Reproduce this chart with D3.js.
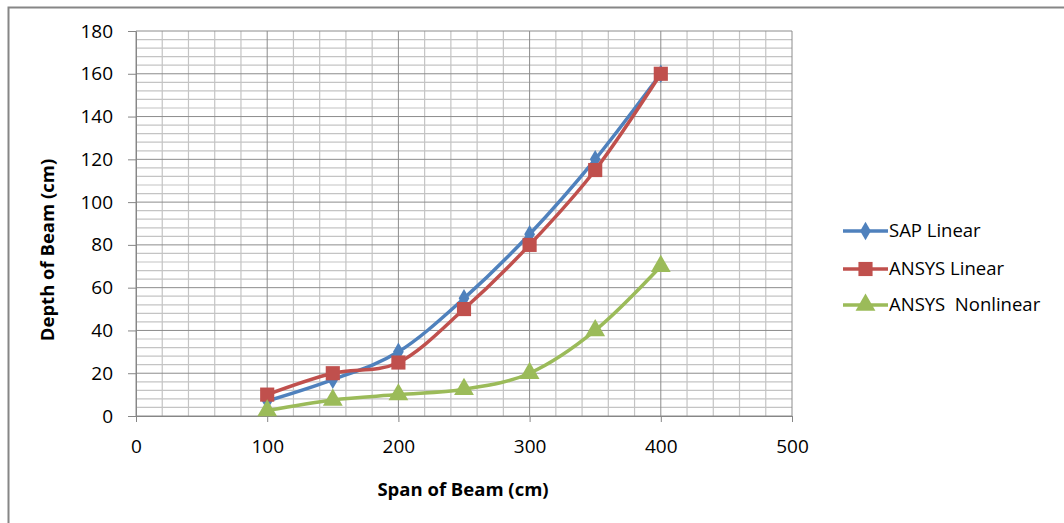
<!DOCTYPE html>
<html><head><meta charset="utf-8">
<script src="https://cdn.jsdelivr.net/npm/d3@7"></script>
<style>body{margin:0;background:#fff}svg{display:block}text{font-family:"Open Sans",sans-serif;fill:#000}</style>
</head><body>
<svg id="c" width="1064" height="523"></svg>
<script>
const spans = [100,150,200,250,300,350,400];
const sapLinear = [7,17,30,55,85,120,160];
const ansysLinear = [10,20,25,50,80,115,160];
const ansysNonlinear = [2.5,7.5,10,12.5,20,40,70];
const seriesNames = ["SAP Linear","ANSYS Linear","ANSYS  Nonlinear"];
const xTicks = [0,100,200,300,400,500];
const yTicks = [0,20,40,60,80,100,120,140,160,180];
const xTitle = "Span of Beam (cm)";
const yTitle = "Depth of Beam (cm)";

const svg = d3.select("#c");
const L=136,R=792,T=31,B=416;
const x = d3.scaleLinear().domain([0,500]).range([L,R]);
const y = d3.scaleLinear().domain([0,180]).range([B,T]);

// outer border
svg.append("rect").attr("x",8.5).attr("y",7.5).attr("width",1100).attr("height",600)
  .attr("fill","none").attr("stroke","#868686").attr("stroke-width",2);

// minor grid
const g = svg.append("g");
d3.range(0,501,20).filter(v=>v%100).forEach(v=>g.append("line").attr("x1",x(v)).attr("x2",x(v)).attr("y1",T).attr("y2",B).attr("stroke","#c4c4c4").attr("stroke-width",1.2));
d3.range(0,181,4).filter(v=>v%20).forEach(v=>g.append("line").attr("y1",y(v)).attr("y2",y(v)).attr("x1",L).attr("x2",R).attr("stroke","#c4c4c4").attr("stroke-width",1.2));
// major grid
xTicks.forEach(v=>g.append("line").attr("x1",x(v)).attr("x2",x(v)).attr("y1",T).attr("y2",B).attr("stroke","#8c8c8c").attr("stroke-width",1));
yTicks.forEach(v=>g.append("line").attr("y1",y(v)).attr("y2",y(v)).attr("x1",L).attr("x2",R).attr("stroke","#8c8c8c").attr("stroke-width",1));

// axes
const xa = svg.append("g").attr("transform",`translate(0,${B})`)
  .call(d3.axisBottom(x).tickValues(xTicks).tickSize(6).tickPadding(18).tickSizeOuter(0));
const ya = svg.append("g").attr("transform",`translate(${L},0)`)
  .call(d3.axisLeft(y).tickValues(yTicks).tickSize(8).tickPadding(15).tickSizeOuter(0));
[xa,ya].forEach(a=>{a.selectAll("path,line").attr("stroke","#868686");a.selectAll("text").attr("font-size",19).attr("font-family","Open Sans").attr("fill","#000");});

svg.append("text").attr("x",463).attr("y",496).attr("text-anchor","middle").attr("font-weight","bold").attr("font-size",18.5).text(xTitle);
svg.append("text").attr("transform","translate(54,250) rotate(-90)").attr("text-anchor","middle").attr("font-weight","bold").attr("font-size",18.5).text(yTitle);

const colors = ["#4F81BD","#C0504D","#9BBB59"];
const data = [sapLinear,ansysLinear,ansysNonlinear];
const shapes = [d3.symbolDiamond,d3.symbolSquare,d3.symbolTriangle];
const sizes = [100,200,170];
const line = d3.line().x(d=>x(d[0])).y(d=>y(d[1])).curve(d3.curveCardinal.tension(0));

data.forEach((vals,i)=>{
  const pts = spans.map((s,j)=>[s,vals[j]]);
  svg.append("path").attr("d",line(pts)).attr("fill","none").attr("stroke",colors[i]).attr("stroke-width",3.5).attr("stroke-linejoin","round");
  svg.selectAll(null).data(pts).enter().append("path")
    .attr("transform",d=>`translate(${x(d[0])},${y(d[1])})`)
    .attr("d",d3.symbol().type(shapes[i]).size(sizes[i])).attr("fill",colors[i]);
});

// legend
const ly = [231,269,305];
seriesNames.forEach((n,i)=>{
  svg.append("line").attr("x1",843).attr("x2",888).attr("y1",ly[i]).attr("y2",ly[i]).attr("stroke",colors[i]).attr("stroke-width",3.5);
  svg.append("path").attr("transform",`translate(865.5,${ly[i]})`).attr("d",d3.symbol().type(shapes[i]).size(sizes[i])).attr("fill",colors[i]);
  svg.append("text").attr("x",889).attr("y",ly[i]).attr("dy","0.35em").attr("font-size",18.5).attr("xml:space","preserve").style("white-space","pre").text(n);
});
</script>
</body></html>
